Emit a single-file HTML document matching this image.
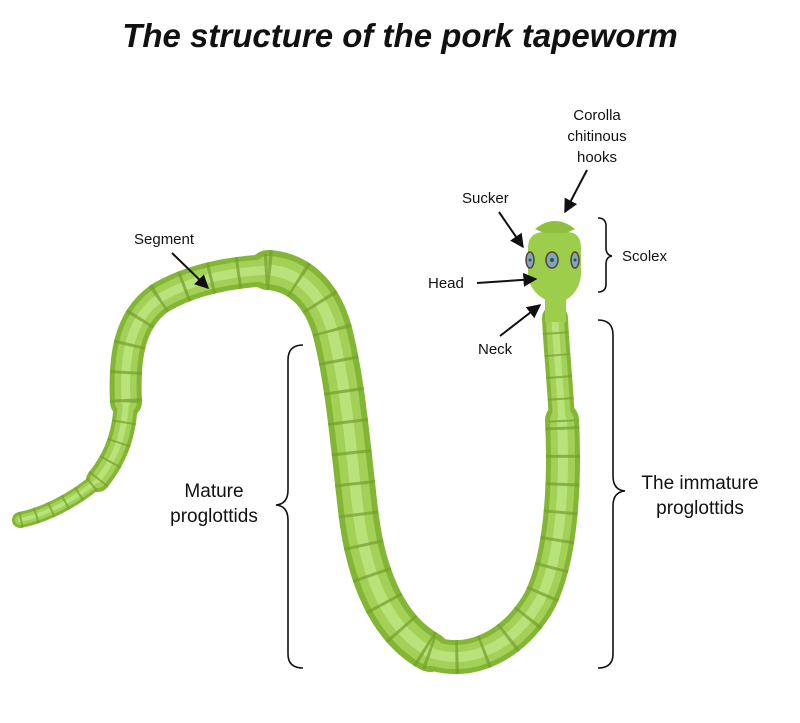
<!DOCTYPE html>
<html><head><style>
body{margin:0;background:#fff;}
svg{display:block}
text{font-family:"Liberation Sans",sans-serif;fill:#111}
</style></head><body>
<svg width="800" height="723" viewBox="0 0 800 723" xmlns="http://www.w3.org/2000/svg">
<defs>
<marker id="ah" viewBox="0 0 10 10" refX="9" refY="5" markerWidth="7" markerHeight="7" orient="auto"><path d="M0,0L10,5L0,10z" fill="#111"/></marker>
<path id="s1" d="M20,520 C45,515 75,500 100,478"/>
<path id="s2" d="M98,480 C118,455 125,430 126,400"/>
<path id="s3" d="M126,402 C124,360 128,320 160,298 C190,280 230,272 270,270"/>
<path id="s4" d="M268,270 C300,272 322,295 332,330 C345,380 350,440 358,510 C366,580 390,630 430,652"/>
<path id="s5" d="M428,652 C470,668 515,645 540,600 C562,555 565,480 562,420"/>
<path id="s6" d="M562,422 C560,380 556,345 555,318"/>
</defs>
<text x="400" y="47" text-anchor="middle" font-size="33" font-weight="bold" font-style="italic">The structure of the pork tapeworm</text>

<g fill="none" stroke-linejoin="round">
<g stroke="#84b636" stroke-linecap="round">
<use href="#s1" stroke-width="16"/><use href="#s2" stroke-width="24"/><use href="#s3" stroke-width="32"/>
<use href="#s4" stroke-width="40"/><use href="#s5" stroke-width="34"/><use href="#s6" stroke-width="26"/>
</g>
<g stroke="#a3d158" stroke-linecap="round">
<use href="#s1" stroke-width="10"/><use href="#s2" stroke-width="16"/><use href="#s3" stroke-width="22"/>
<use href="#s4" stroke-width="28"/><use href="#s5" stroke-width="24"/><use href="#s6" stroke-width="18"/>
</g>
<g stroke="#b8e27a" stroke-linecap="round">
<use href="#s1" stroke-width="4"/><use href="#s2" stroke-width="6"/><use href="#s3" stroke-width="9"/>
<use href="#s4" stroke-width="11"/><use href="#s5" stroke-width="10"/><use href="#s6" stroke-width="7"/>
</g>
<g stroke="#739f2c" stroke-linecap="butt" opacity="0.7">
<use href="#s1" stroke-width="16" stroke-dasharray="2 14"/><use href="#s2" stroke-width="24" stroke-dasharray="2 19"/>
<use href="#s3" stroke-width="32" stroke-dasharray="3 25"/><use href="#s4" stroke-width="40" stroke-dasharray="3 28"/>
<use href="#s5" stroke-width="34" stroke-dasharray="3 25"/><use href="#s6" stroke-width="26" stroke-dasharray="2 20"/>
</g>
</g>
<!-- neck & head -->
<rect x="545" y="290" width="21" height="32" fill="#9cce4c"/>
<path d="M528,248 Q528,232 545,232 L567,232 Q581,232 581,248 L581,275 Q579,292 566,300 L546,300 Q530,292 528,275 Z" fill="#9cce4c"/>
<rect x="549" y="222" width="12" height="14" fill="#9cce4c"/>
<path d="M535,229 Q555,213 575,229 L566,233 L544,233 Z" fill="#8fbf3f"/>
<g stroke="#5a3d3d" stroke-width="1.5" fill="#7fa8b5">
<ellipse cx="530" cy="260" rx="4" ry="8"/><ellipse cx="552" cy="260" rx="6" ry="8"/><ellipse cx="575" cy="260" rx="4" ry="8"/>
</g>
<g fill="#2f5060"><circle cx="552" cy="260" r="2"/><circle cx="530" cy="260" r="1.5"/><circle cx="575" cy="260" r="1.5"/></g>

<g stroke="#111" stroke-width="2" fill="none" marker-end="url(#ah)">
<line x1="172" y1="253" x2="208" y2="288"/>
<line x1="499" y1="212" x2="523" y2="247"/>
<line x1="587" y1="170" x2="565" y2="212"/>
<line x1="477" y1="283" x2="536" y2="279"/>
<line x1="500" y1="336" x2="540" y2="305"/>
</g>
<g stroke="#111" stroke-width="1.6" fill="none">
<path d="M303,345 Q288,345 288,360 L288,490 Q288,504 276,505 Q288,506 288,520 L288,654 Q288,668 303,668"/>
<path d="M598,320 Q613,320 613,335 L613,476 Q613,490 625,491 Q613,492 613,506 L613,654 Q613,668 598,668"/>
<path d="M598,218 Q606,218 606,226 L606,248 Q606,255 612,256 Q606,257 606,264 L606,284 Q606,292 598,292"/>
</g>
<g font-size="15">
<text x="134" y="244">Segment</text>
<text x="462" y="203">Sucker</text>
<text x="597" y="120" text-anchor="middle">Corolla</text>
<text x="597" y="141" text-anchor="middle">chitinous</text>
<text x="597" y="162" text-anchor="middle">hooks</text>
<text x="622" y="261">Scolex</text>
<text x="428" y="288">Head</text>
<text x="478" y="354">Neck</text>
</g>
<g font-size="19">
<text x="214" y="497" text-anchor="middle">Mature</text>
<text x="214" y="522" text-anchor="middle">proglottids</text>
<text x="700" y="489" text-anchor="middle">The immature</text>
<text x="700" y="514" text-anchor="middle">proglottids</text>
</g>
</svg>
</body></html>
